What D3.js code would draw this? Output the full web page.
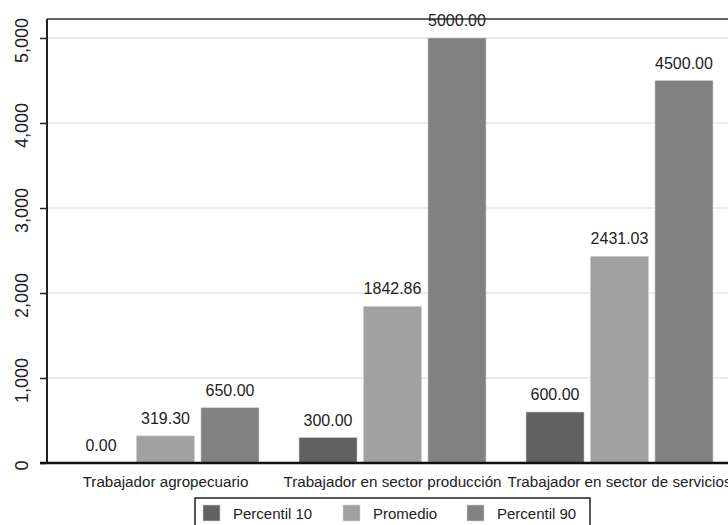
<!DOCTYPE html>
<html>
<head>
<meta charset="utf-8">
<script src="https://cdn.jsdelivr.net/npm/d3@7"></script>
<style>
  html, body { margin: 0; padding: 0; background: #fff; }
  svg { display: block; font-family: "Liberation Sans", Arial, sans-serif; }
</style>
</head>
<body>
<svg id="chart" width="728" height="525"></svg>
<script>
const categories = ["Trabajador agropecuario", "Trabajador en sector producción", "Trabajador en sector de servicios"];
const seriesNames = ["Percentil 10", "Promedio", "Percentil 90"];
const percentil10 = [0, 300, 600];
const promedio = [319.30, 1842.86, 2431.03];
const percentil90 = [650, 5000, 4500];
const yTicks = [0, 1000, 2000, 3000, 4000, 5000];
const seriesColors = ["#616161", "#a1a1a1", "#818181"];

const seriesValues = [percentil10, promedio, percentil90];

const svg = d3.select("#chart");
const plotLeft = 47, plotTop = 19, plotBottom = 463;

const x0 = d3.scaleBand().domain(categories).range([52, 733]).paddingInner(0).paddingOuter(0);
const x1 = d3.scaleBand().domain(seriesNames).range([20, x0.bandwidth() - 20]).paddingInner(0.1).paddingOuter(0);
const y = d3.scaleLinear().domain([0, 5000]).range([plotBottom, 38]);

// gridlines
svg.append("g").selectAll("line").data(yTicks.filter(d => d > 0)).join("line")
  .attr("x1", plotLeft).attr("x2", 728)
  .attr("y1", d => y(d)).attr("y2", d => y(d))
  .attr("stroke", "#e6e6e6").attr("stroke-width", 1.5);

// top frame
svg.append("line").attr("x1", plotLeft).attr("x2", 728).attr("y1", plotTop).attr("y2", plotTop)
  .attr("stroke", "#333").attr("stroke-width", 1.5);

// bars
const g = svg.append("g");
categories.forEach((c, ci) => {
  seriesNames.forEach((s, si) => {
    const v = seriesValues[si][ci];
    const bx = x0(c) + x1(s);
    g.append("rect")
      .attr("x", bx).attr("y", y(v))
      .attr("width", x1.bandwidth()).attr("height", plotBottom - y(v))
      .attr("fill", seriesColors[si])
      .attr("stroke", "#d0d0d0").attr("stroke-width", 0.6);
    g.append("text")
      .attr("x", bx + x1.bandwidth() / 2).attr("y", y(v) - 12)
      .attr("text-anchor", "middle").attr("font-size", 16).attr("fill", "#222")
      .text(d3.format(".2f")(v));
  });
});

// y axis
const yAxis = d3.axisLeft(y).tickValues(yTicks).tickFormat(d3.format(",")).tickSize(7).tickSizeOuter(0);
const ya = svg.append("g").attr("transform", `translate(${plotLeft},0)`).call(yAxis);
ya.select(".domain").remove();
ya.selectAll(".tick line").attr("stroke", "#222").attr("stroke-width", 1.5);
ya.selectAll(".tick text")
  .attr("font-size", 18).attr("fill", "#222")
  .attr("transform", "rotate(-90)")
  .attr("x", -2).attr("y", -19).attr("dy", 0)
  .attr("text-anchor", "middle")
  .attr("font-family", "Liberation Sans, Arial, sans-serif");
svg.append("line").attr("x1", plotLeft).attr("x2", plotLeft).attr("y1", plotTop).attr("y2", plotBottom + 1)
  .attr("stroke", "#222").attr("stroke-width", 2);

// x axis
const xAxis = d3.axisBottom(x0).tickSize(0).tickSizeOuter(0);
const xa = svg.append("g").attr("transform", `translate(0,${plotBottom})`).call(xAxis);
xa.select(".domain").remove();
xa.selectAll(".tick text").attr("font-size", 15.2).attr("fill", "#222").attr("dy", 0).attr("y", 24)
  .attr("font-family", "Liberation Sans, Arial, sans-serif");
svg.append("line").attr("x1", plotLeft - 7).attr("x2", 728).attr("y1", plotBottom).attr("y2", plotBottom)
  .attr("stroke", "#111").attr("stroke-width", 2.5);

// legend
const lg = svg.append("g");
lg.append("rect").attr("x", 195).attr("y", 498).attr("width", 395).attr("height", 40)
  .attr("fill", "#fff").attr("stroke", "#222").attr("stroke-width", 1.5);
const legendX = d3.scaleOrdinal().domain(seriesNames).range([203, 343, 467]);
seriesNames.forEach((s, i) => {
  lg.append("rect").attr("x", legendX(s)).attr("y", 505).attr("width", 17).attr("height", 16)
    .attr("fill", seriesColors[i]).attr("stroke", "#d0d0d0").attr("stroke-width", 0.6);
  lg.append("text").attr("x", legendX(s) + 30).attr("y", 519).attr("font-size", 15).attr("fill", "#222")
    .text(s);
});
</script>
</body>
</html>
